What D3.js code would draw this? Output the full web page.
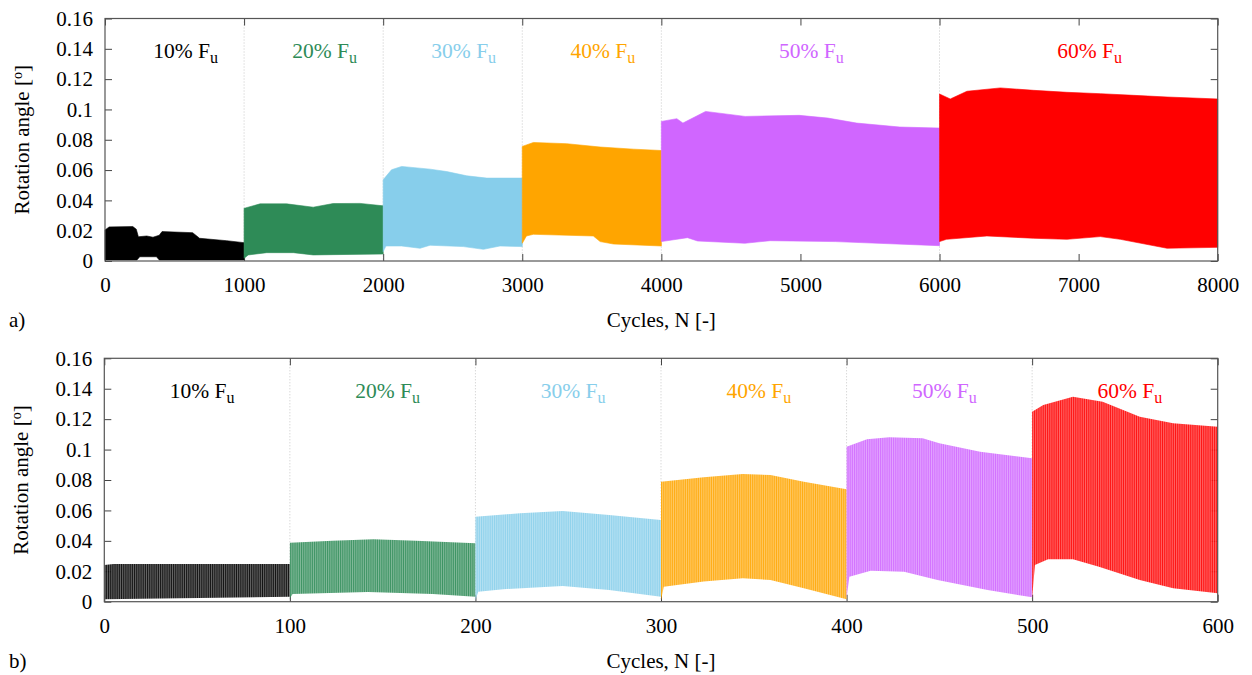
<!DOCTYPE html>
<html>
<head>
<meta charset="utf-8">
<script src="https://cdn.jsdelivr.net/npm/d3@7"></script>
<style>
  body { margin: 0; background: #fff; }
  svg, svg text { font-family: "Liberation Serif", "Times New Roman", Times, "DejaVu Serif", serif; }
</style>
</head>
<body>
<div id="chart"></div>
<script>
const serifFont = "'Liberation Serif', 'Times New Roman', Times, 'DejaVu Serif', serif";

// load levels and their colours
const loadLevels = ["10%", "20%", "30%", "40%", "50%", "60%"];
const levelColors = ["#000000", "#2e8b57", "#87ceeb", "#ffa500", "#d066ff", "#ff0000"];

// block boundaries (cycles)
const boundsA = [0, 1000, 2000, 3000, 4000, 6000, 8000];
const boundsB = [0, 100, 200, 300, 400, 500, 600];

// tick values
const yTicks = [0, 0.02, 0.04, 0.06, 0.08, 0.1, 0.12, 0.14, 0.16];
const yTickLabels = ["0", "0.02", "0.04", "0.06", "0.08", "0.1", "0.12", "0.14", "0.16"];
const xTicksA = [0, 1000, 2000, 3000, 4000, 5000, 6000, 7000, 8000];
const xTicksB = [0, 100, 200, 300, 400, 500, 600];

// panel a) envelopes [cycle, rotation]
const upperA = [
  [[0, 0.0205], [30, 0.0225], [200, 0.0227], [225, 0.021], [240, 0.016], [300, 0.0165], [345, 0.0157], [390, 0.017], [410, 0.0194], [630, 0.0187], [680, 0.015], [875, 0.0134], [1000, 0.0121]],
  [[1000, 0.0348], [1010, 0.035], [1115, 0.0377], [1306, 0.0377], [1497, 0.0355], [1640, 0.0379], [1834, 0.038], [2000, 0.0364]],
  [[2000, 0.0536], [2060, 0.0602], [2133, 0.0624], [2337, 0.0606], [2457, 0.059], [2601, 0.0562], [2745, 0.0547], [3000, 0.0547]],
  [[3000, 0.0756], [3080, 0.0782], [3320, 0.0774], [3560, 0.0752], [3800, 0.0738], [4000, 0.0729]],
  [[4000, 0.0921], [4111, 0.0939], [4155, 0.091], [4318, 0.0987], [4603, 0.0954], [4991, 0.0961], [5197, 0.0943], [5404, 0.091], [5714, 0.0884], [6000, 0.0877]],
  [[6000, 0.1102], [6077, 0.1069], [6197, 0.112], [6437, 0.1142], [6677, 0.1126], [6916, 0.1113], [7156, 0.1104], [7396, 0.1093], [7636, 0.1082], [8000, 0.1069]]
];
const lowerA = [
  [[0, 0.0007], [230, 0.0007], [250, 0.0028], [370, 0.0028], [390, 0.0007], [1000, 0.0007]],
  [[1000, 0.0018], [1030, 0.004], [1163, 0.0055], [1355, 0.0055], [1497, 0.004], [1640, 0.0042], [2000, 0.0046]],
  [[2000, 0.0062], [2020, 0.0099], [2133, 0.0099], [2265, 0.0084], [2337, 0.0104], [2577, 0.0095], [2721, 0.0077], [2840, 0.0099], [3000, 0.0095]],
  [[3000, 0.0117], [3030, 0.0165], [3080, 0.0176], [3511, 0.0165], [3560, 0.0128], [3656, 0.0112], [4000, 0.0099]],
  [[4000, 0.0128], [4188, 0.0154], [4260, 0.0132], [4600, 0.0117], [4782, 0.0134], [5250, 0.0128], [6000, 0.0101]],
  [[6000, 0.0128], [6050, 0.0143], [6341, 0.0165], [6677, 0.015], [6916, 0.0143], [7156, 0.0161], [7300, 0.0143], [7636, 0.0084], [8000, 0.009]]
];

// panel b) envelopes
const upperB = [
  [[0, 0.0242], [5, 0.0248], [100, 0.0248]],
  [[100, 0.0388], [123, 0.0401], [145, 0.041], [168, 0.0401], [200, 0.0384]],
  [[200, 0.0559], [224, 0.0581], [247, 0.0596], [272, 0.057], [300, 0.0537]],
  [[300, 0.0789], [323, 0.0818], [344, 0.084], [359, 0.0833], [377, 0.0789], [400, 0.0739]],
  [[400, 0.1019], [411, 0.1068], [423, 0.1081], [441, 0.1074], [450, 0.1041], [472, 0.0986], [500, 0.0943]],
  [[500, 0.1249], [506, 0.1293], [522, 0.1348], [538, 0.1315], [558, 0.1216], [576, 0.1173], [600, 0.115]]
];
const lowerB = [
  [[0, 0.0016], [100, 0.0033]],
  [[100, 0.0022], [101.5, 0.0051], [142, 0.0064], [177, 0.0051], [200, 0.0033]],
  [[200, 0.001], [201.5, 0.0066], [215, 0.0082], [247, 0.0103], [272, 0.0077], [300, 0.0033]],
  [[300, 0.001], [301.5, 0.0099], [323, 0.0132], [344, 0.0154], [359, 0.0143], [377, 0.0088], [400, 0.0016]],
  [[400, 0.0022], [401.5, 0.0164], [413, 0.0204], [431, 0.0197], [449, 0.0143], [476, 0.0077], [500, 0.0029]],
  [[500, 0.0022], [501.5, 0.0241], [508.6, 0.0279], [522, 0.0279], [536, 0.023], [558, 0.0143], [576, 0.0088], [600, 0.0055]]
];

const svg = d3.select("#chart").append("svg")
  .attr("width", 1252)
  .attr("height", 675)
  .attr("font-family", serifFont);

const defs = svg.append("defs");

const drawPanel = function(opts){
  const x = d3.scaleLinear().domain(opts.xDomain).range([opts.left, opts.right]);
  const y = d3.scaleLinear().domain([0, 0.16]).range([opts.bottom, opts.top]);
  const g = svg.append("g");

  // dotted separators between load blocks
  g.selectAll(".sep")
    .data(opts.bounds.slice(1, -1))
    .enter()
    .append("line")
    .attr("x1", d => x(d)).attr("x2", d => x(d))
    .attr("y1", opts.top).attr("y2", opts.bottom)
    .attr("stroke", "#c8c8c8")
    .attr("stroke-width", 1)
    .attr("stroke-dasharray", "1,2");

  const tickStyle = sel => {
    sel.attr("font-family", serifFont);
    sel.select(".domain").remove();
    sel.selectAll(".tick line").attr("stroke", "#444");
    sel.selectAll(".tick text")
      .attr("fill", "#000")
      .style("font-size", "21px")
      .style("font-family", serifFont);
  };

  g.append("g")
    .attr("transform", `translate(${opts.left},0)`)
    .call(d3.axisLeft(y).tickValues(yTicks).tickSize(-7).tickPadding(12)
      .tickFormat((d, i) => yTickLabels[i]))
    .call(tickStyle);
  g.append("g")
    .attr("transform", `translate(${opts.right},0)`)
    .call(d3.axisRight(y).tickValues(yTicks).tickSize(-7).tickFormat(""))
    .call(tickStyle);
  g.append("g")
    .attr("transform", `translate(0,${opts.bottom})`)
    .call(d3.axisBottom(x).tickValues(opts.xTicks).tickSize(-7).tickPadding(16)
      .tickFormat(d3.format("d")))
    .call(tickStyle);
  g.append("g")
    .attr("transform", `translate(0,${opts.top})`)
    .call(d3.axisTop(x).tickValues(opts.xTicks).tickSize(-7).tickFormat(""))
    .call(tickStyle);

  // envelope bands
  const line = d3.line().x(d => x(d[0])).y(d => y(d[1]));
  opts.upper.forEach((up, i) => {
    const pts = up.concat(opts.lower[i].slice().reverse());
    let fill = levelColors[i];
    if (opts.striped){
      const period = x(1) - x(0);
      const pat = defs.append("pattern")
        .attr("id", `stripe-${i}`)
        .attr("patternUnits", "userSpaceOnUse")
        .attr("x", x(0))
        .attr("y", 0)
        .attr("width", period)
        .attr("height", 675);
      pat.append("rect")
        .attr("width", period).attr("height", 675)
        .attr("fill", levelColors[i])
        .attr("opacity", 0.92);
      pat.append("rect")
        .attr("x", period * 0.62)
        .attr("width", period * 0.38).attr("height", 675)
        .attr("fill", "#fff")
        .attr("opacity", 0.45);
      fill = `url(#stripe-${i})`;
    }
    g.append("path")
      .attr("d", line(pts) + "Z")
      .attr("fill", fill)
      .attr("stroke", opts.striped ? "none" : levelColors[i])
      .attr("stroke-width", 0.6);
  });

  // frame
  g.append("rect")
    .attr("x", opts.left).attr("y", opts.top)
    .attr("width", opts.right - opts.left)
    .attr("height", opts.bottom - opts.top)
    .attr("fill", "none")
    .attr("stroke", "#555")
    .attr("stroke-width", 1.2);

  // block labels
  loadLevels.forEach((lvl, i) => {
    const mid = (opts.bounds[i] + opts.bounds[i + 1]) / 2;
    const t = g.append("text")
      .attr("x", x(mid) + opts.labelShift)
      .attr("y", opts.top + 39.5)
      .attr("text-anchor", "middle")
      .attr("fill", levelColors[i])
      .attr("font-family", serifFont)
      .style("font-size", "21.5px");
    t.append("tspan").text(lvl + " F");
    t.append("tspan").attr("dy", 5).style("font-size", "16px").text("u");
  });

  // axis titles
  const yt = svg.append("text")
    .attr("transform", `translate(${opts.left - 76},${(opts.top + opts.bottom) / 2}) rotate(-90)`)
    .attr("text-anchor", "middle")
    .attr("font-family", serifFont)
    .style("font-size", "21px");
  yt.append("tspan").text("Rotation angle [");
  yt.append("tspan").attr("dy", -7).style("font-size", "14px").text("o");
  yt.append("tspan").attr("dy", 7).text("]");

  svg.append("text")
    .attr("x", (opts.left + opts.right) / 2)
    .attr("y", opts.bottom + 66)
    .attr("text-anchor", "middle")
    .attr("font-family", serifFont)
    .style("font-size", "21px")
    .text("Cycles, N [-]");

  svg.append("text")
    .attr("x", 9)
    .attr("y", opts.bottom + 66)
    .attr("font-family", serifFont)
    .style("font-size", "21px")
    .text(opts.tag);
};

drawPanel({
  xDomain: [0, 8000], left: 105, right: 1217.7, top: 18.5, bottom: 261,
  xTicks: xTicksA, bounds: boundsA, upper: upperA, lower: lowerA,
  striped: false, labelShift: 11, tag: "a)"
});

drawPanel({
  xDomain: [0, 600], left: 104.3, right: 1217.7, top: 358.3, bottom: 601.7,
  xTicks: xTicksB, bounds: boundsB, upper: upperB, lower: lowerB,
  striped: true, labelShift: 5, tag: "b)"
});
</script>
</body>
</html>
